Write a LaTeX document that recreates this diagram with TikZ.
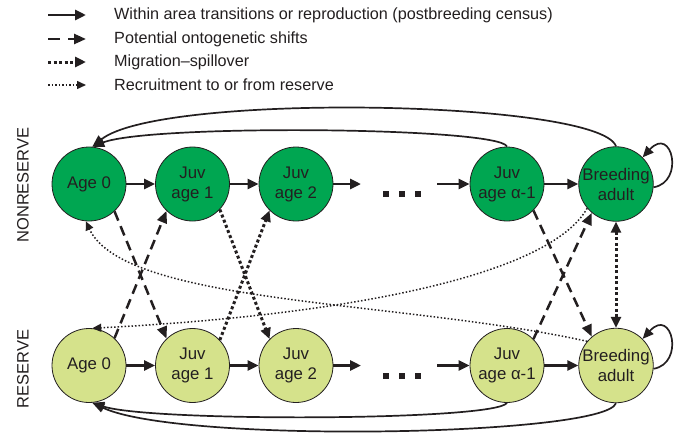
\documentclass[tikz,border=0pt]{standalone}
\usepackage{fontspec}
\setmainfont{Liberation Sans}
\usetikzlibrary{arrows.meta}
\definecolor{dkg}{RGB}{0,166,81}
\definecolor{ltg}{RGB}{213,226,139}
\definecolor{ink}{RGB}{35,31,32}
\begin{document}
\begin{tikzpicture}[x=1pt,y=-1pt,
  state/.style={circle, draw=ink, line width=0.8pt, minimum size=74pt, inner sep=0pt, align=center, text=ink, font=\fontsize{16.8}{20}\selectfont},
  topst/.style={state, fill=dkg},
  botst/.style={state, fill=ltg},
  solidarr/.style={draw=ink, line width=2.7pt, -{Triangle[length=11pt,width=10pt]}},
  curvearr/.style={draw=ink, line width=1.7pt, -{Triangle[length=12pt,width=9.5pt]}},
  loopline/.style={draw=ink, line width=1.7pt, -{Triangle[length=11pt,width=9.5pt]}},
  dasharr/.style={draw=ink, line width=2.5pt, dash pattern=on 10pt off 6pt, -{Triangle[length=12pt,width=10pt]}},
  migr/.style={draw=ink, line width=3pt, dash pattern=on 3pt off 2.5pt, -{Triangle[length=11pt,width=10pt]}},
  migrboth/.style={draw=ink, line width=3pt, dash pattern=on 3pt off 2.5pt, {Triangle[length=11pt,width=10pt]}-{Triangle[length=11pt,width=10pt]}},
  recr/.style={draw=ink, line width=1.5pt, dash pattern=on 1.5pt off 2pt, -{Triangle[length=9pt,width=8pt]}},
  legtext/.style={anchor=west, text=ink, font=\fontsize{16.2}{19}\selectfont, inner sep=0pt},
  sidelab/.style={rotate=90, text=ink, font=\fontsize{16.5}{19}\selectfont, inner sep=0pt}
]
\useasboundingbox (0,0) rectangle (679,434);

% legend
\coordinate (l1a) at (48,15); \coordinate (l1b) at (86,15);
\coordinate (l2a) at (48,39); \coordinate (l2b) at (86,39);
\coordinate (l3a) at (48,62); \coordinate (l3b) at (86,62);
\coordinate (l4a) at (48,85); \coordinate (l4b) at (86,85);
\draw[solidarr] (l1a) -- (l1b);
\draw[dasharr, dash pattern=on 12pt off 8pt] (l2a) -- (l2b);
\draw[migr] (l3a) -- (l3b);
\draw[recr] (l4a) -- (l4b);
\node[legtext] (t1) at (114,15) {Within area transitions or reproduction (postbreeding census)};
\node[legtext] (t2) at (114,39) {Potential ontogenetic shifts};
\node[legtext] (t3) at (114,62) {Migration–spillover};
\node[legtext] (t4) at (114,85) {Recruitment to or from reserve};

% side labels
\node[sidelab] (nr) at (23,185) {NONRESERVE};
\node[sidelab] (rs) at (23,369) {RESERVE};

% nodes
\node[topst] (a0t) at (89,184) {Age 0};
\node[topst] (j1t) at (192.5,184) {Juv\\age 1};
\node[topst] (j2t) at (296,184) {Juv\\age 2};
\node[topst] (jat) at (507,184) {Juv\\age α-1};
\node[topst] (bat) at (616,184) {Breeding\\adult};
\node[botst] (a0b) at (89,365.5) {Age 0};
\node[botst] (j1b) at (192.5,365.5) {Juv\\age 1};
\node[botst] (j2b) at (296,365.5) {Juv\\age 2};
\node[botst] (jab) at (507,365.5) {Juv\\age α-1};
\node[botst] (bab) at (616,365.5) {Breeding\\adult};

\coordinate (c1t) at (361,184); \coordinate (c2t) at (437,184);
\coordinate (c1b) at (361,365.5); \coordinate (c2b) at (437,365.5);

% ellipsis dots
\fill[ink] (383,191) rectangle +(6,6);
\fill[ink] (399,191) rectangle +(6,6);
\fill[ink] (415,191) rectangle +(6,6);
\fill[ink] (383,373) rectangle +(6,6);
\fill[ink] (399,373) rectangle +(6,6);
\fill[ink] (415,373) rectangle +(6,6);

% within-area transitions
\foreach \r in {t,b}{
  \draw[solidarr] (a0\r) -- (j1\r);
  \draw[solidarr] (j1\r) -- (j2\r);
  \draw[solidarr] (j2\r) -- (c1\r);
  \draw[solidarr] (c2\r) -- (ja\r);
  \draw[solidarr] (ja\r) -- (ba\r);
}

% reproduction curves (top)
\draw[curvearr] (bat.90) .. controls (600,100) and (160,92) .. (a0t.85);
\draw[curvearr] (jat.90) .. controls (500,127) and (150,124) .. (a0t.85);
% reproduction curves (bottom)
\draw[curvearr] (bab.-90) .. controls (605,436) and (180,444) .. (a0b.-85);
\draw[curvearr] (jab.-90) .. controls (495,421) and (150,422) .. (a0b.-85);

% self loops
\draw[loopline] (bat.-5) .. controls (685,182) and (672,125) .. (bat.45);
\draw[loopline] (bab.-5) .. controls (685,363.5) and (672,306.5) .. (bab.45);

% ontogenetic shifts
\draw[dasharr] (a0t.-47) -- (j1b.134);
\draw[dasharr] (a0b.47) -- (j1t.-134);
\draw[dasharr] (jat.-45) -- (bab.130);
\draw[dasharr] (jab.45) -- (bat.-130);

% migration-spillover
\draw[migr] (j1t.-43) -- (j2b.135);
\draw[migr] (j1b.43) -- (j2t.-135);
\draw[migrboth] (bat.-90) -- (bab.90);

% recruitment
\draw[recr] (bat.-140) .. controls (550,275) and (350,315) .. (a0b.85);
\draw[recr] (bab.140) .. controls (400,300) and (125,305) .. (a0t.-95);
\end{tikzpicture}
\end{document}
